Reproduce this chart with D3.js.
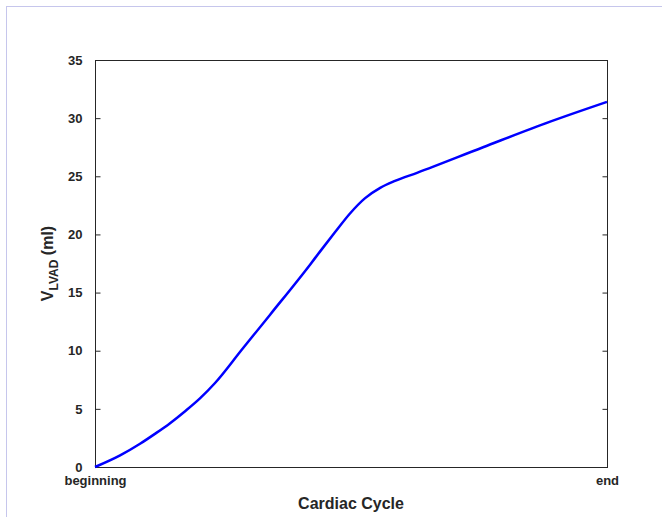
<!DOCTYPE html>
<html>

<head>
    <title>LVAD Volume</title>
    <script src="https://d3js.org/d3.v7.min.js"></script>
    <style>
        body {
            margin: 0;
            background: #fff;
            font-family: "Liberation Sans", Arial, sans-serif;
        }

        .tick-label {
            font-size: 13px;
            font-weight: bold;
            fill: #262626;
        }
    </style>
</head>

<body>
    <div id="chart"></div>

    <script>
        // cycle position (0 = beginning, 1 = end) and LVAD volume in ml
        const cyclePos = [0, 0.049, 0.088, 0.117, 0.146, 0.176, 0.205, 0.234, 0.287, 0.342, 0.420, 0.439, 0.469, 0.498, 0.527, 0.557, 0.586, 0.629, 0.758, 0.889, 1.0];
        const volume = [0, 1.0, 2.0, 2.85, 3.75, 4.8, 5.9, 7.2, 10.1, 13.1, 17.4, 18.5, 20.2, 21.8, 23.1, 24.0, 24.6, 25.3, 27.5, 29.7, 31.4];
        const yTicks = [0, 5, 10, 15, 20, 25, 30, 35];
        const xTickLabels = ["beginning", "end"];

        const data = cyclePos.map((p, i) => ({ p: p, v: volume[i] }));

        const W = 662, H = 517;
        const margin = { top: 60, right: 55, bottom: 50, left: 95 },
            width = W - margin.left - margin.right,
            height = H - margin.top - margin.bottom;

        const root = d3.select("#chart")
            .append("svg")
            .attr("width", W)
            .attr("height", H);

        // light frame around the figure
        root.append("rect")
            .attr("x", 6.5)
            .attr("y", 6.5)
            .attr("width", W)
            .attr("height", H)
            .attr("fill", "none")
            .attr("stroke", "#c6c6ec")
            .attr("stroke-width", 1);

        const svg = root.append("g")
            .attr("transform", `translate(${margin.left},${margin.top})`);

        const x = d3.scaleLinear().domain([0, 1]).range([0, width]);
        const y = d3.scaleLinear().domain([0, 35]).range([height, 0]);

        // box
        svg.append("rect")
            .attr("x", 0.5)
            .attr("y", 0.5)
            .attr("width", width)
            .attr("height", height)
            .attr("fill", "none")
            .attr("stroke", "#262626")
            .attr("stroke-width", 1);

        // left axis, ticks pointing inside
        const yAxis = svg.append("g")
            .attr("transform", "translate(0.5,0)")
            .call(d3.axisLeft(y).tickValues(yTicks).tickSizeInner(-5).tickSizeOuter(0).tickPadding(13));
        yAxis.select(".domain").remove();
        yAxis.selectAll("line").attr("stroke", "#262626");
        yAxis.selectAll("text").attr("class", "tick-label").attr("font-family", null).attr("font-size", null);

        // right axis ticks, no labels
        const yRight = svg.append("g")
            .attr("transform", `translate(${width + 0.5},0)`)
            .call(d3.axisRight(y).tickValues(yTicks).tickSizeInner(-5).tickSizeOuter(0).tickFormat(""));
        yRight.select(".domain").remove();
        yRight.selectAll("line").attr("stroke", "#262626");

        // bottom labels
        const xAxis = svg.append("g")
            .attr("transform", `translate(0,${height})`)
            .call(d3.axisBottom(x).tickValues([0, 1]).tickSize(0).tickPadding(9)
                .tickFormat((d, i) => xTickLabels[i]));
        xAxis.select(".domain").remove();
        xAxis.selectAll("text").attr("class", "tick-label").attr("font-family", null).attr("font-size", null);

        // curve
        const line = d3.line()
            .x(d => x(d.p))
            .y(d => y(d.v))
            .curve(d3.curveMonotoneX);

        svg.append("path")
            .datum(data)
            .attr("fill", "none")
            .attr("stroke", "#0000ff")
            .attr("stroke-width", 2.5)
            .attr("d", line);

        // X axis label
        svg.append("text")
            .attr("text-anchor", "middle")
            .attr("x", width / 2)
            .attr("y", height + 42)
            .attr("font-size", "16px")
            .attr("font-weight", "bold")
            .attr("fill", "#262626")
            .text("Cardiac Cycle");

        // Y axis label
        const yl = svg.append("text")
            .attr("text-anchor", "middle")
            .attr("transform", `translate(-42,${height / 2}) rotate(-90)`)
            .attr("font-size", "16px")
            .attr("font-weight", "bold")
            .attr("fill", "#262626");
        yl.append("tspan").text("V");
        yl.append("tspan").attr("font-size", "12px").attr("dy", 5).text("LVAD");
        yl.append("tspan").attr("dy", -5).text(" (ml)");
    </script>
</body>

</html>
